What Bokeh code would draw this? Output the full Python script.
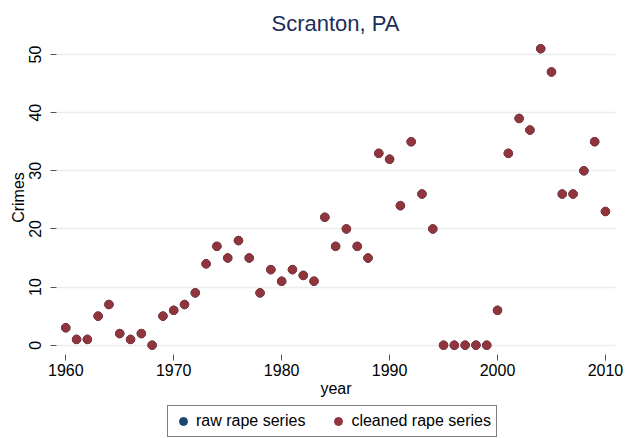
from bokeh.plotting import figure
from bokeh.layouts import column
from bokeh.models import Range1d, FixedTicker, Legend, LegendItem, ColumnDataSource, Label
from bokeh.embed import file_html
from bokeh.resources import INLINE

years = list(range(1960, 2011))
raw_rape = [3, 1, 1, 5, 7, 2, 1, 2, 0, 5,
            6, 7, 9, 14, 17, 15, 18, 15, 9, 13,
            11, 13, 12, 11, 22, 17, 20, 17, 15, 33,
            32, 24, 35, 26, 20, 0, 0, 0, 0, 0,
            6, 33, 39, 37, 51, 47, 26, 26, 30, 35, 23]
cleaned_rape = [3, 1, 1, 5, 7, 2, 1, 2, 0, 5,
                6, 7, 9, 14, 17, 15, 18, 15, 9, 13,
                11, 13, 12, 11, 22, 17, 20, 17, 15, 33,
                32, 24, 35, 26, 20, 0, 0, 0, 0, 0,
                6, 33, 39, 37, 51, 47, 26, 26, 30, 35, 23]
x_ticks = [1960, 1970, 1980, 1990, 2000, 2010]
y_ticks = [0, 10, 20, 30, 40, 50]
title_text = "Scranton, PA"
series_labels = ["raw rape series", "cleaned rape series"]

FONT = "Liberation Sans"
RAW_COLOR = "#1a476f"
CLEAN_COLOR = "#90353b"

src = ColumnDataSource(dict(year=years, raw=raw_rape, cleaned=cleaned_rape))


def strip(height):
    f = figure(width=626, height=height, output_backend="svg", toolbar_location=None,
               x_range=Range1d(0, 1), y_range=Range1d(0, 1),
               x_axis_location=None, y_axis_location=None,
               min_border_left=0, min_border_right=0, min_border_top=0, min_border_bottom=0)
    f.frame_align = False
    f.grid.visible = False
    f.outline_line_color = None
    f.background_fill_color = "white"
    f.border_fill_color = "white"
    return f


# title strip
tt = strip(40)
tt.add_layout(Label(x=335, y=17, x_units="screen", y_units="screen", text=title_text,
                    text_align="center", text_baseline="alphabetic",
                    text_font=FONT, text_font_size="22px", text_color="#1c2d5c"))

# main plot
p = figure(width=626, height=360, output_backend="svg", toolbar_location=None,
           x_range=Range1d(1959.14, 2010.93), y_range=Range1d(-1.6, 52.41),
           min_border_left=56, min_border_right=11, min_border_top=0, min_border_bottom=46)
p.frame_align = False
p.outline_line_color = None
p.background_fill_color = "white"
p.border_fill_color = "white"

r1 = p.scatter("year", "raw", source=src, size=8.5, fill_color=RAW_COLOR, line_color=RAW_COLOR)
r2 = p.scatter("year", "cleaned", source=src, size=8.5, fill_color=CLEAN_COLOR, line_color=CLEAN_COLOR)

for ax in (p.xaxis[0], p.yaxis[0]):
    ax.axis_line_color = None
    ax.major_tick_in = 0
    ax.major_tick_out = 6
    ax.major_tick_line_color = "#555555"
    ax.major_tick_line_width = 1
    ax.minor_tick_line_color = None
    ax.major_label_text_font = FONT
    ax.major_label_text_font_size = "16px"
    ax.major_label_text_color = "black"
    ax.axis_label_text_font = FONT
    ax.axis_label_text_font_size = "16px"
    ax.axis_label_text_font_style = "normal"
    ax.axis_label_text_color = "black"

p.xaxis.ticker = FixedTicker(ticks=x_ticks)
p.yaxis.ticker = FixedTicker(ticks=y_ticks)
p.xaxis.axis_label = "year"
p.yaxis.axis_label = "Crimes"
p.xaxis.major_label_standoff = 3
p.xaxis.axis_label_standoff = 1
p.yaxis.major_label_orientation = "vertical"
p.yaxis.major_label_standoff = 9
p.yaxis.axis_label_standoff = 0

p.xgrid.grid_line_color = None
p.ygrid.ticker = FixedTicker(ticks=y_ticks)
p.ygrid.grid_line_color = "#e8eef0"
p.ygrid.grid_line_width = 1.5

# legend strip below the plot
lg = strip(38)
l1 = lg.scatter("year", "raw", source=src, size=8.5, fill_color=RAW_COLOR, line_color=RAW_COLOR)
l2 = lg.scatter("year", "cleaned", source=src, size=8.5, fill_color=CLEAN_COLOR, line_color=CLEAN_COLOR)

legend = Legend(items=[LegendItem(label=series_labels[0], renderers=[l1]),
                       LegendItem(label=series_labels[1], renderers=[l2])],
                orientation="horizontal", location=(167, 1),
                border_line_color="black", border_line_width=1,
                padding=5, spacing=23, margin=0,
                glyph_width=20, glyph_height=20, label_height=20,
                label_standoff=3, label_text_font=FONT, label_text_font_size="16px",
                label_text_color="black", background_fill_color="white")
lg.add_layout(legend)

layout = column(tt, p, lg, spacing=0)
open("out.html", "w").write(file_html(layout, INLINE))
